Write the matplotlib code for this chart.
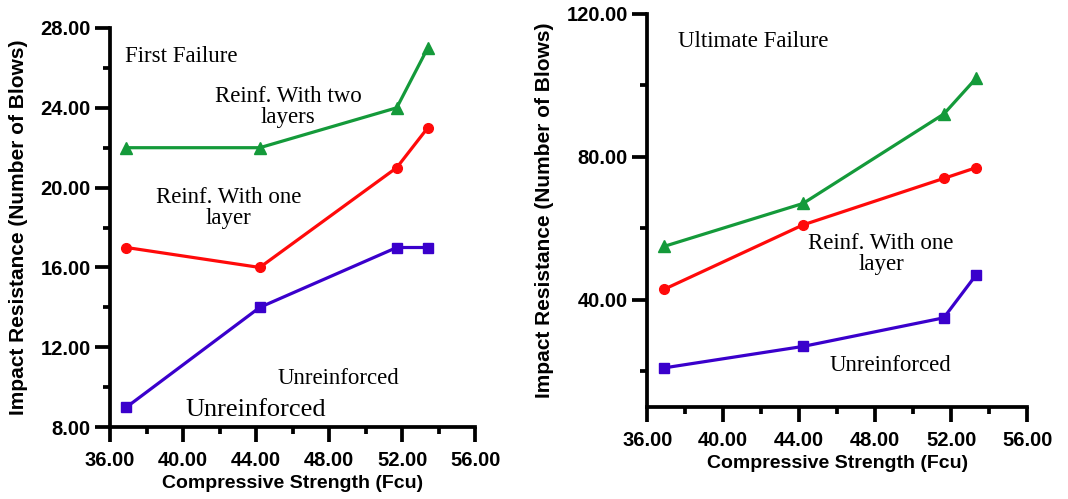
import numpy as np
import matplotlib.pyplot as plt
from matplotlib.ticker import MultipleLocator, FormatStrFormatter

# compressive strength (Fcu) of the four mixes
fcu_first = [36.9, 44.2, 51.7, 53.4]
fcu_ult = [36.9, 44.2, 51.6, 53.3]

# first failure, number of blows
first_two = [22, 22, 24, 27]
first_one = [17, 16, 21, 23]
first_unr = [9, 14, 17, 17]

# ultimate failure, number of blows
ult_two = [55, 67, 92, 102]
ult_one = [43, 61, 74, 77]
ult_unr = [21, 27, 35, 47]

green = '#149a3a'
red = '#ff0a0a'
blue = '#3a00cc'

plt.rcParams['font.family'] = 'Liberation Sans'

fig = plt.figure(figsize=(10.68, 4.99), dpi=100)
ax1 = fig.add_axes([0.103, 0.144, 0.342, 0.800])
ax2 = fig.add_axes([0.606, 0.184, 0.356, 0.788])


def style(ax, ylo, yhi, ymaj, ymin):
    ax.set_xlim(36, 56)
    ax.set_ylim(ylo, yhi)
    ax.xaxis.set_major_locator(MultipleLocator(4))
    ax.xaxis.set_minor_locator(MultipleLocator(2))
    ax.yaxis.set_major_locator(MultipleLocator(ymaj))
    ax.yaxis.set_minor_locator(MultipleLocator(ymin))
    ax.xaxis.set_major_formatter(FormatStrFormatter('%.2f'))
    ax.yaxis.set_major_formatter(FormatStrFormatter('%.2f'))
    for s in ['top', 'right']:
        ax.spines[s].set_visible(False)
    for s in ['left', 'bottom']:
        ax.spines[s].set_linewidth(2.7)
    ax.tick_params(which='major', direction='out', length=10.5, width=2.7, labelsize=14.5)
    ax.tick_params(which='minor', direction='out', length=5, width=2.7)
    ax.tick_params(axis='x', which='major', pad=6.5)
    ax.tick_params(axis='y', which='major', pad=3.5)
    for lab in ax.get_xticklabels() + ax.get_yticklabels():
        lab.set_fontweight('bold')
    ax.set_xlabel('Compressive Strength (Fcu)', fontsize=14, fontweight='bold', labelpad=4)
    ax.set_ylabel('Impact Resistance (Number of Blows)', fontsize=15, fontweight='bold', labelpad=9)


serif = dict(family='Liberation Serif', fontsize=16.5)

# first failure
ax1.plot(fcu_first, first_two, color=green, lw=2.3, marker='^', ms=8, clip_on=False)
ax1.plot(fcu_first, first_one, color=red, lw=2.3, marker='o', ms=7, clip_on=False)
ax1.plot(fcu_first, first_unr, color=blue, lw=2.3, marker='s', ms=7.5, clip_on=False)
style(ax1, 8, 28, 4, 2)
ax1.text(36.8, 26.55, 'First Failure', va='center', ha='left', **serif)
ax1.text(45.75, 24.05, 'Reinf. With two\nlayers', ha='center', va='center', linespacing=1.0, **serif)
ax1.text(42.5, 19.0, 'Reinf. With one\nlayer', ha='center', va='center', linespacing=1.0, **serif)
ax1.text(48.5, 10.45, 'Unreinforced', ha='center', va='center', **serif)
ax1.text(44.0, 8.85, 'Unreinforced', ha='center', va='center', family='Liberation Serif', fontsize=19)

# ultimate failure
ax2.plot(fcu_ult, ult_two, color=green, lw=2.3, marker='^', ms=8, clip_on=False)
ax2.plot(fcu_ult, ult_one, color=red, lw=2.3, marker='o', ms=7, clip_on=False)
ax2.plot(fcu_ult, ult_unr, color=blue, lw=2.3, marker='s', ms=7.5, clip_on=False)
style(ax2, 10, 120, 40, 20)
ax2.set_yticks([40, 80, 120])
ax2.text(37.6, 112.3, 'Ultimate Failure', ha='left', va='center', **serif)
ax2.text(48.3, 52.8, 'Reinf. With one\nlayer', ha='center', va='center', linespacing=1.0, **serif)
ax2.text(48.8, 21.6, 'Unreinforced', ha='center', va='center', **serif)

fig.savefig('out.png', dpi=100)
